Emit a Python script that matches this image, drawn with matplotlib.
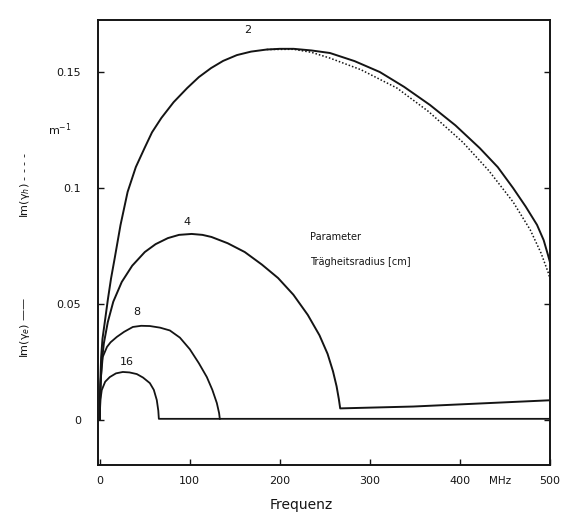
import matplotlib
matplotlib.use("Agg")
from matplotlib import pyplot as plt

# frequency [MHz] / Im(gamma) [1/m]
f_r2 = [0, 0.5, 1.5, 3, 5.5, 9, 12.5, 16.6, 23, 30.9, 40, 49.7, 58, 68.4, 82, 97.1, 110, 123.6,
        137, 152.3, 168, 185.4, 200, 215.2, 235, 255.6, 283, 311, 338, 366.7, 395, 422, 442,
        459, 473, 485.6, 493, 497.8, 500]
im_r2 = [0.0, 0.015, 0.027, 0.035, 0.042, 0.052, 0.061, 0.0698, 0.084, 0.0983, 0.109, 0.1172,
         0.124, 0.1302, 0.137, 0.1431, 0.1478, 0.1517, 0.1548, 0.1573, 0.1588, 0.1597, 0.160,
         0.160, 0.1593, 0.1582, 0.1547, 0.150, 0.1436, 0.1358, 0.127, 0.1172, 0.109, 0.100,
         0.092, 0.0841, 0.0775, 0.0711, 0.068]

f_r2_dot = [185.4, 215.2, 235, 255.6, 290, 330, 365, 403, 432, 459, 478, 490, 497.8, 500]
im_r2_dot = [0.1597, 0.1598, 0.1585, 0.156, 0.151, 0.1431, 0.133, 0.1198, 0.1075, 0.094,
             0.082, 0.072, 0.0638, 0.061]

f_r4 = [0, 0.5, 2, 4.5, 8.9, 15, 24.4, 36, 50, 62, 75.6, 88, 102, 114, 124, 142, 161, 180,
        198, 215, 231, 244, 253, 259, 263, 265.5, 267, 348, 500]
im_r4 = [0.0, 0.012, 0.024, 0.033, 0.0422, 0.051, 0.0595, 0.0665, 0.0724, 0.0758, 0.0784,
         0.0798, 0.0802, 0.0798, 0.0789, 0.0762, 0.0724, 0.067, 0.0612, 0.054, 0.0453, 0.0365,
         0.0285, 0.021, 0.0145, 0.009, 0.005, 0.0058, 0.0085]

f_r8 = [0, 0.3, 1.2, 3.3, 8, 12, 18.9, 27, 36.7, 46, 55.6, 67, 77.8, 89, 100, 110, 118.9,
        125, 130, 132.5, 133.3]
im_r8 = [0.0, 0.008, 0.018, 0.0272, 0.0315, 0.0335, 0.0358, 0.038, 0.0401, 0.0406, 0.0405,
         0.0398, 0.0386, 0.0355, 0.0305, 0.0245, 0.0185, 0.013, 0.0073, 0.003, 0.0005]

f_r16 = [0, 0.2, 0.8, 2.2, 6, 11.1, 18, 25.6, 33, 41.1, 48, 55.6, 60, 63.3, 65, 65.6, 500]
im_r16 = [0.0, 0.004, 0.009, 0.0129, 0.0165, 0.0185, 0.0201, 0.0207, 0.0205, 0.0198, 0.0183,
          0.0159, 0.013, 0.0086, 0.004, 0.0005, 0.0005]

x_ticks = [0, 100, 200, 300, 400, 500]
x_labels = ["0", "100", "200", "300", "400", "500"]
y_ticks = [0, 0.05, 0.1, 0.15]
y_labels = ["0", "0.05", "0.1", "0.15"]

ink = "#141414"

fig = plt.figure(figsize=(5.68, 5.21), dpi=100)
ax = fig.add_axes([0.1725, 0.1075, 0.7958, 0.854])

ax.plot(f_r2, im_r2, color=ink, lw=1.4)
ax.plot(f_r2_dot, im_r2_dot, color=ink, lw=1.1, ls=(0, (1, 1.3)))
ax.plot(f_r4, im_r4, color=ink, lw=1.4)
ax.plot(f_r8, im_r8, color=ink, lw=1.3)
ax.plot(f_r16, im_r16, color=ink, lw=1.3)

ax.set_xlim(-2, 500)
ax.set_ylim(-0.0194, 0.1724)

ax.set_xticks(x_ticks)
ax.set_xticklabels(x_labels)
ax.set_yticks(y_ticks)
ax.set_yticklabels(y_labels)
ax.tick_params(direction="in", length=4, width=1, colors=ink, labelsize=8,
               right=True, top=False)
ax.tick_params(axis="y", pad=12)
ax.tick_params(axis="x", pad=8)
for s in ax.spines.values():
    s.set_linewidth(1.4)
    s.set_color(ink)

# curve labels
txt = dict(color=ink, fontsize=8, ha="center", va="center")
ax.text(164, 0.168, "2", **txt)
ax.text(97, 0.0853, "4", **txt)
ax.text(41, 0.0466, "8", **txt)
ax.text(30, 0.025, "16", **txt)
ax.text(233, 0.0789, "Parameter", color=ink, fontsize=7, ha="left", va="center")
ax.text(233, 0.068, "Trägheitsradius [cm]", color=ink, fontsize=7, ha="left", va="center")
ax.text(445, -0.0265, "MHz", color=ink, fontsize=7.5, ha="center", va="center")

fig.text(60 / 568, 1 - 130 / 521, "m$^{-1}$", color=ink, fontsize=8, ha="center", va="center")
fig.text(25 / 568, 1 - 185 / 521, "Im(γ$_h$) - - - -", color=ink, fontsize=8,
         rotation=90, ha="center", va="center")
fig.text(25 / 568, 1 - 327 / 521, "Im(γ$_e$) ——", color=ink, fontsize=8,
         rotation=90, ha="center", va="center")
fig.text(0.53, 1 - 505 / 521, "Frequenz", color=ink, fontsize=10, ha="center", va="center")

fig.savefig("out.png", dpi=100)
